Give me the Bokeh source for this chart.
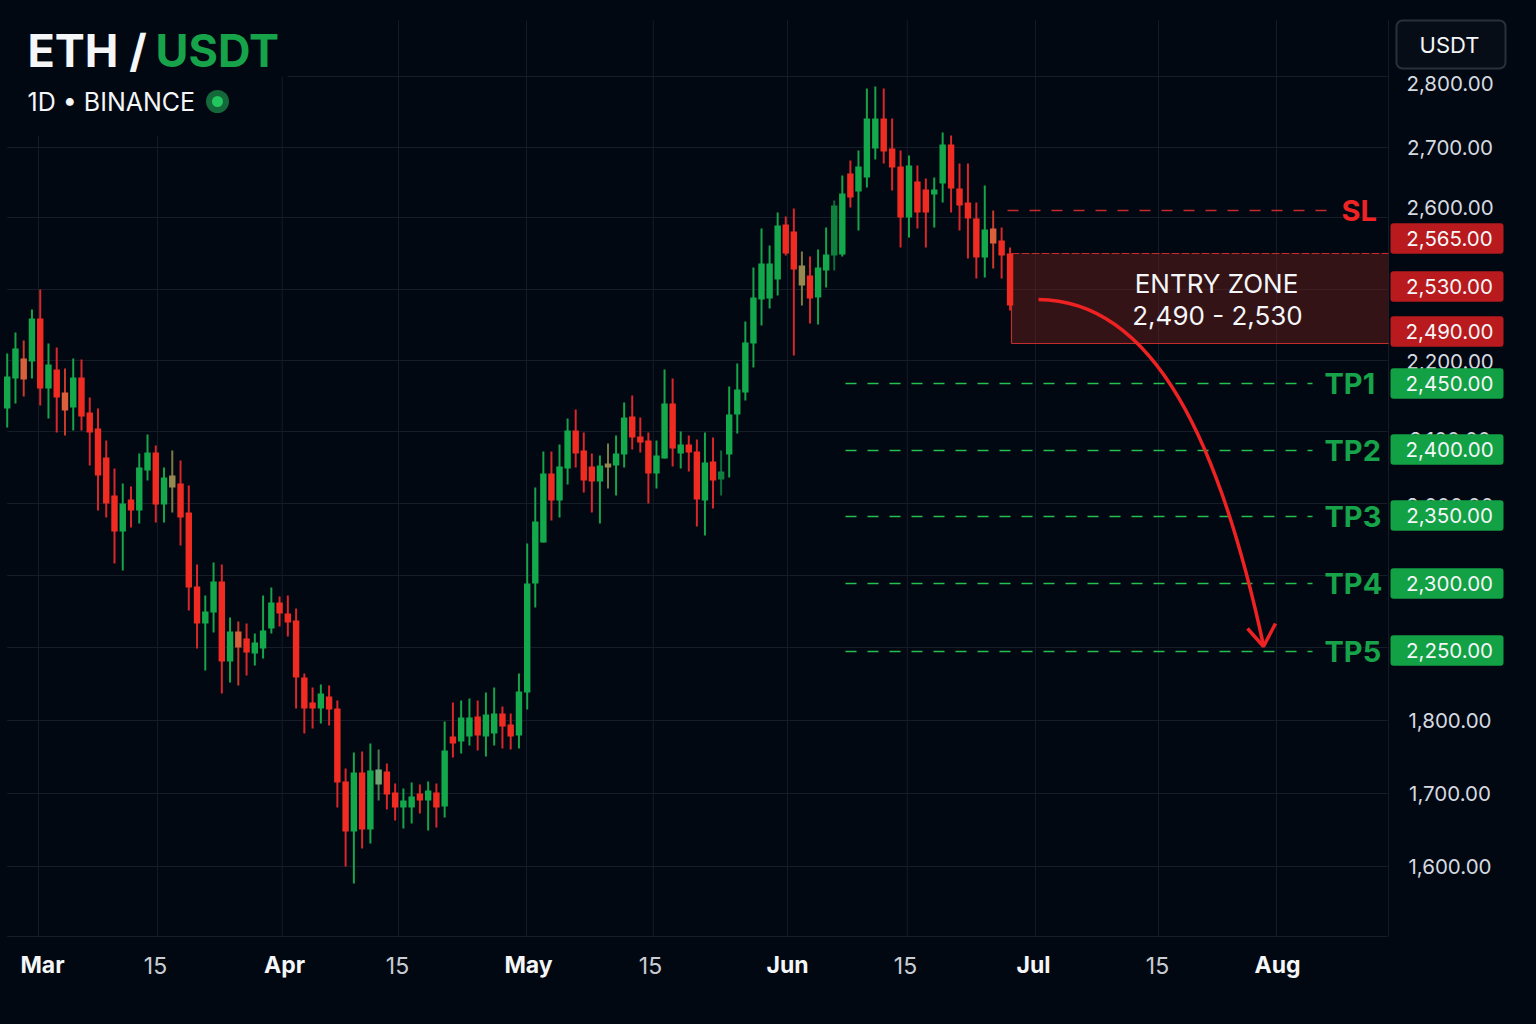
import numpy as np
from bokeh.embed import file_html
from bokeh.resources import INLINE
from bokeh.core.properties import value
from bokeh.models import ColumnDataSource, FixedTicker, LinearAxis, Range1d
from bokeh.plotting import figure

# ------------------------------------------------------------------ data
direction = ("GGRGRGRRGR" "RRRRGRGGRG" "RRRRGGRGRR" "GGGRRRRRGR" "RRGRGGRRGG" "RGRGRGGRGG"
             "RRGGGGRGGR" "RRGRGGRRRG" "GRGRRGRGGG" "GGGGGRRRRG" "GGGRGGGRRR" "GRRGGRRRRG" "RRR")
highs = [2395.5,2427,2415,2461.5,2491.5,2410.5,2404.5,2373,2388,2386.5,
         2329.5,2313,2265,2223,2200.5,2196,2245.5,2274,2257.5,2224.5,
         2250,2235,2197.5,2079,2032.5,2082,2079,1999.5,1993.5,1990.5,
         1975.5,2032.5,2044.5,2031,2032.5,2013,1915.5,1894.5,1899,1897.5,
         1875,1773,1797,1798.5,1810.5,1801.5,1780.5,1750.5,1743,1752,
         1749,1753.5,1750.5,1843.5,1872,1875,1878,1875,1887,1894.5,
         1866,1855.5,1915.5,2110.5,2194.5,2248.5,2248.5,2259,2298,2311.5,
         2277,2245.5,2242.5,2260.5,2272.5,2322,2332.5,2299.5,2277,2265,
         2371.5,2358,2278.5,2272.5,2266.5,2277,2269.5,2250,2346,2380.5,
         2443.5,2524.5,2583,2557.5,2607,2601,2613,2548.5,2541,2551.5,
         2584.5,2625,2662.5,2685,2700,2793,2796,2793,2748,2700,
         2692.5,2677.5,2658,2659.5,2727,2722.5,2680.5,2680.5,2622,2647.5,
         2610,2584.5,2554.5]
body_top = [2361,2403,2388,2448,2448,2379,2371.5,2337,2359.5,2359.5,
            2307,2283,2239.5,2182.5,2170.5,2176.5,2224.5,2247,2247,2209.5,
            2212.5,2200.5,2157,2046,2008.5,2053.5,2053.5,1978.5,1978.5,1968,
            1962,1980,2022,2022,2005.5,1995,1909.5,1872,1885.5,1881,
            1863,1753.5,1767,1767,1770,1771.5,1768.5,1737,1725,1731,
            1735.5,1740,1737,1800,1821,1849.5,1849.5,1851,1854,1855.5,
            1855.5,1839,1888.5,2050.5,2143.5,2215.5,2215.5,2226,2280,2280,
            2250,2226,2227.5,2230.5,2245.5,2299.5,2301,2271,2265,2242.5,
            2320.5,2320.5,2259,2259,2248.5,2232,2233.5,2218.5,2304,2341.5,
            2412,2479.5,2530.5,2530.5,2587.5,2589,2578.5,2527.5,2512.5,2524.5,
            2544,2617.5,2635.5,2665.5,2676,2748,2748,2748,2703,2676,
            2677.5,2653.5,2641.5,2641.5,2709,2709,2643,2622,2598,2581.5,
            2583,2565,2545.5]
body_bottom = [2313,2358,2356.5,2383.5,2343,2343,2329.5,2310,2314.5,2301,
               2277,2212.5,2170.5,2128.5,2128.5,2160,2160,2220,2169,2169,
               2194.5,2149.5,2044.5,1990.5,1990.5,2007,1933.5,1933.5,1954.5,1947,
               1945.5,1953,1983,2005.5,1992,1909.5,1863,1863,1863,1861.5,
               1752,1678.5,1678.5,1681.5,1681.5,1749,1734,1714.5,1714.5,1714.5,
               1725,1725,1714.5,1716,1810.5,1813.5,1821,1822.5,1821,1825.5,
               1836,1821,1822.5,1887,2050.5,2112,2175,2175,2223,2245.5,
               2205,2203.5,2203.5,2224.5,2227.5,2244,2269.5,2262,2215.5,2215.5,
               2238,2253,2245.5,2247,2176.5,2175,2205,2206.5,2244,2304,
               2337,2410.5,2476.5,2478,2506.5,2545.5,2521.5,2497.5,2478,2479.5,
               2520,2542.5,2544,2629.5,2638.5,2659.5,2703,2698.5,2674.5,2599.5,
               2599.5,2607,2607,2634,2650.5,2643,2617.5,2598,2539.5,2539.5,
               2560.5,2542.5,2467.5]
lows = [2284.5,2320.5,2331,2358,2317.5,2298,2277,2272.5,2280,2280,
        2227.5,2160,2149.5,2080.5,2070,2134.5,2140.5,2205,2142,2142,
        2157,2107.5,2010,1953,1920,1977,1885.5,1902,1897.5,1912.5,
        1927.5,1938,1975.5,1986,1971,1863,1825.5,1833,1840.5,1837.5,
        1714.5,1626,1600.5,1653,1660.5,1725,1711.5,1695,1683,1690.5,
        1705.5,1680,1684.5,1699.5,1789.5,1795.5,1807.5,1800,1791,1807.5,
        1803,1801.5,1803,1861.5,2014.5,2112,2145,2149.5,2199,2224.5,
        2187,2157,2140.5,2193,2182.5,2224.5,2251.5,2247,2170.5,2193,
        2238,2226,2223,2218.5,2136,2122.5,2163,2182.5,2209.5,2275.5,
        2325,2374.5,2437.5,2463,2482.5,2542.5,2392.5,2467.5,2440.5,2439,
        2494.5,2520,2541,2614.5,2580,2644.5,2686.5,2680.5,2640,2554.5,
        2569.5,2583,2554.5,2584.5,2622,2607,2580,2538,2508,2509.5,
        2523,2508,2460]

tan_idx = [20, 73, 97]
orange_idx = [2, 7, 28, 120]
pale_green_idx = [45]
dark_green_idx = [101, 87]

# session index -> time axis (sessions are not evenly spaced in the picture)
session_anchor = [0, 63, 104, 122]
day_anchor = [0, 63.26, 103.56, 122]

month_labels = ["Mar", "Apr", "May", "Jun", "Jul", "Aug"]
month_ticks = [4.29, 33.74, 63.42, 94.93, 124.85, 154.55]
mid_labels = ["15", "15", "15", "15", "15"]
mid_ticks = [18.04, 47.48, 78.26, 109.28, 139.94]
x_grid = [3.81, 18.28, 33.45, 47.6, 63.17, 78.6, 94.93, 109.5, 125.1, 140.06, 154.42, 168.04]
x_grid_top = [2722, 2722, 2811, 2895, 2895, 2895, 2895, 2895, 2895, 2895, 2895, 2895]

price_labels = ["2,800.00", "2,700.00", "2,600.00", "2,200.00", "2,100.00", "2,000.00",
                "1,800.00", "1,700.00", "1,600.00"]
price_ticks = [2800.5, 2704.5, 2614.5, 2383.5, 2266.5, 2167.5, 1845, 1735.5, 1626]
y_grid = [2811, 2704.5, 2599.5, 2491.5, 2385, 2278.5, 2170.5, 2062.5, 1954.5, 1845, 1735.5, 1626, 1521]
y_grid_start = [34.1, 0, 0, 0, 0, 0, 0, 0, 0, 0, 0, 0, 0]

sl_level = 2610
zone_top, zone_bottom = 2545.5, 2410.5
tp_names = ["TP1", "TP2", "TP3", "TP4", "TP5"]
tp_levels = [2350.5, 2250, 2151, 2050.5, 1948.5]
red_tags = ["2,565.00", "2,530.00", "2,490.00"]
red_tag_levels = [2568, 2496, 2428.5]
green_tags = ["2,450.00", "2,400.00", "2,350.00", "2,300.00", "2,250.00"]
green_tag_levels = [2350.5, 2251.5, 2152.5, 2050.5, 1950]

# ------------------------------------------------------------------ style
BG = "#020812"
GRID = "#151d28"
GREEN = "#14a84c"
GREEN_TXT = "#16a34a"
RED = "#f02c22"
WHITE = "#f4f6f8"
FONT = "Inter"


def X(px):
    return (px - 6.7) / 8.22


def Y(py):
    return 2925 - 1.5 * py


p = figure(width=1536, height=1024, output_backend="svg", toolbar_location=None,
           x_range=Range1d(X(0), X(1536)), y_range=Range1d(Y(937), Y(0)),
           x_axis_location=None, y_axis_location=None,
           background_fill_color=BG, border_fill_color=BG, outline_line_color=None,
           min_border_left=0, min_border_top=0, min_border_right=0, min_border_bottom=87)
p.grid.visible = False

# grid
p.segment(x0=x_grid, y0=[Y(936)] * len(x_grid), x1=x_grid, y1=x_grid_top, line_color=GRID,
          line_width=1, level="underlay")
p.segment(x0=y_grid_start, y0=y_grid, x1=[X(1387)] * len(y_grid), y1=y_grid, line_color=GRID,
          line_width=1, level="underlay")

# time axis: months in bold, mid-month ticks in regular weight
months = LinearAxis(ticker=FixedTicker(ticks=month_ticks),
                    major_label_overrides=dict(zip(month_ticks, month_labels)),
                    major_label_text_color=WHITE, major_label_text_font=FONT,
                    major_label_text_font_style="bold", major_label_text_font_size="23px",
                    major_label_standoff=7, major_tick_line_color=None,
                    minor_tick_line_color=None, axis_line_color=None)
p.add_layout(months, "below")
mids = LinearAxis(ticker=FixedTicker(ticks=mid_ticks),
                  major_label_overrides=dict(zip(mid_ticks, mid_labels)),
                  major_label_text_color="#c9ced5", major_label_text_font=FONT,
                  major_label_text_font_style="normal", major_label_text_font_size="23px",
                  major_label_standoff=-31, major_tick_line_color=None,
                  minor_tick_line_color=None, axis_line_color=None)
p.add_layout(mids, "below")

# entry zone
p.quad(left=X(1011), right=X(1388), top=zone_top, bottom=zone_bottom,
       fill_color="#71221f", fill_alpha=0.45, line_color=None)
p.segment(x0=[X(1011)], y0=[zone_top], x1=[X(1388)], y1=[zone_top], line_color="#c22c2c",
          line_width=1.2, line_dash="8 2")
p.segment(x0=[X(1011), X(1011)], y0=[zone_bottom, zone_bottom], x1=[X(1388), X(1011)],
          y1=[zone_bottom, zone_top], line_color="#c22c2c", line_width=1.2)

# candles
idx = np.arange(len(highs))
days = np.interp(idx, session_anchor, day_anchor)
colors = [GREEN if d == "G" else RED for d in direction]
wicks = ["#16a34a" if d == "G" else "#d9262a" for d in direction]
for i in tan_idx:
    colors[i] = "#96894f"
    wicks[i] = "#7d7a45"
for i in orange_idx:
    colors[i] = "#d9603a"
    wicks[i] = "#c83a2a"
for i in pale_green_idx:
    colors[i] = "#6fa874"
    wicks[i] = "#4d7a55"
for i in dark_green_idx:
    colors[i] = "#10803e"
    wicks[i] = "#0f6a3a"
src = ColumnDataSource(dict(x=days, h=highs, l=lows, t=body_top, b=body_bottom, c=colors, w=wicks))
p.segment(x0="x", y0="l", x1="x", y1="h", source=src, line_color="w", line_width=2)
p.vbar(x="x", width=0.78, top="t", bottom="b", source=src, fill_color="c", line_color=None)

# level lines
p.segment(x0=[X(1007)], y0=[sl_level], x1=[X(1328)], y1=[sl_level], line_color="#c62a2a",
          line_width=1.5, line_dash="11 11")
p.segment(x0=[X(845)] * 5, y0=tp_levels, x1=[X(1312)] * 5, y1=tp_levels, line_color="#25c04f",
          line_width=1.5, line_dash="11 11")

# level names
p.text(x=[X(1324)] * 5, y=tp_levels, text=tp_names, text_color=GREEN_TXT, text_font=value(FONT),
       text_font_size="29px", text_font_style="bold", text_baseline="middle", text_align="left")
p.text(x=[X(1341)], y=[sl_level], text=["SL"], text_color="#ef2323", text_font=value(FONT),
       text_font_size="29px", text_font_style="bold", text_baseline="middle", text_align="left")
p.text(x=[X(1216), X(1217)], y=[Y(283), Y(315)], text=["ENTRY ZONE", "2,490 - 2,530"],
       text_color=WHITE, text_font=value(FONT), text_font_size="26px", text_baseline="middle",
       text_align="center")

# arrow
p.bezier(x0=[X(1038)], y0=[Y(299)], x1=[X(1263)], y1=[Y(645)], cx0=[X(1155)], cy0=[Y(300)],
         cx1=[X(1220)], cy1=[Y(445)], line_color="#ee2222", line_width=3.5)
p.line(x=[X(1247), X(1263), X(1275)], y=[Y(628), Y(646), Y(623)], line_color="#ee2222",
       line_width=3.5)

# header
p.text(x=[X(27)], y=[Y(50)], text=["ETH /"], text_color=WHITE, text_font=value(FONT),
       text_font_size="45px", text_font_style="bold", text_baseline="middle")
p.text(x=[X(155)], y=[Y(50)], text=["USDT"], text_color=GREEN_TXT, text_font=value(FONT),
       text_font_size="45px", text_font_style="bold", text_baseline="middle")
p.text(x=[X(27)], y=[Y(101)], text=["1D • BINANCE"], text_color=WHITE, text_font=value(FONT),
       text_font_size="25px", text_baseline="middle")
p.scatter(x=[X(217)], y=[Y(101)], size=23, marker="circle", fill_color="#14693a", line_color=None)
p.scatter(x=[X(217)], y=[Y(101)], size=11, marker="circle", fill_color="#22c55e", line_color=None)

# price scale
p.text(x=[X(1449.5)] * len(price_ticks), y=price_ticks, text=price_labels, text_color="#d5dae0",
       text_font=value(FONT), text_font_size="20.5px", text_baseline="middle", text_align="center")

# price tags
tag_half = 23.0
tag_lv = red_tag_levels + green_tag_levels
tag_txt = red_tags + green_tags
tag_fill = ["#b81a1e"] * len(red_tags) + ["#12a144"] * len(green_tags)
p.quad(left=[X(1390)] * len(tag_lv), right=[X(1503)] * len(tag_lv),
       top=[v + tag_half for v in tag_lv], bottom=[v - tag_half for v in tag_lv],
       fill_color=tag_fill, line_color=None, border_radius=3)
p.text(x=[X(1449)] * len(tag_lv), y=tag_lv, text=tag_txt, text_color=WHITE, text_font=value(FONT),
       text_font_size="20.5px", text_baseline="middle", text_align="center")

# quote badge
p.quad(left=[X(1396)], right=[X(1505)], top=[Y(20)], bottom=[Y(68)], fill_color="#060d17",
       line_color="#2a3038", line_width=2, border_radius=6)
p.text(x=[X(1449)], y=[Y(44)], text=["USDT"], text_color=WHITE, text_font=value(FONT),
       text_font_size="22px", text_baseline="middle", text_align="center")

TEMPLATE = """{% block postamble %}<style>html,body{background:#020812;}</style>{% endblock %}
"""
open("out.html", "w").write(file_html(p, INLINE, template=TEMPLATE))
